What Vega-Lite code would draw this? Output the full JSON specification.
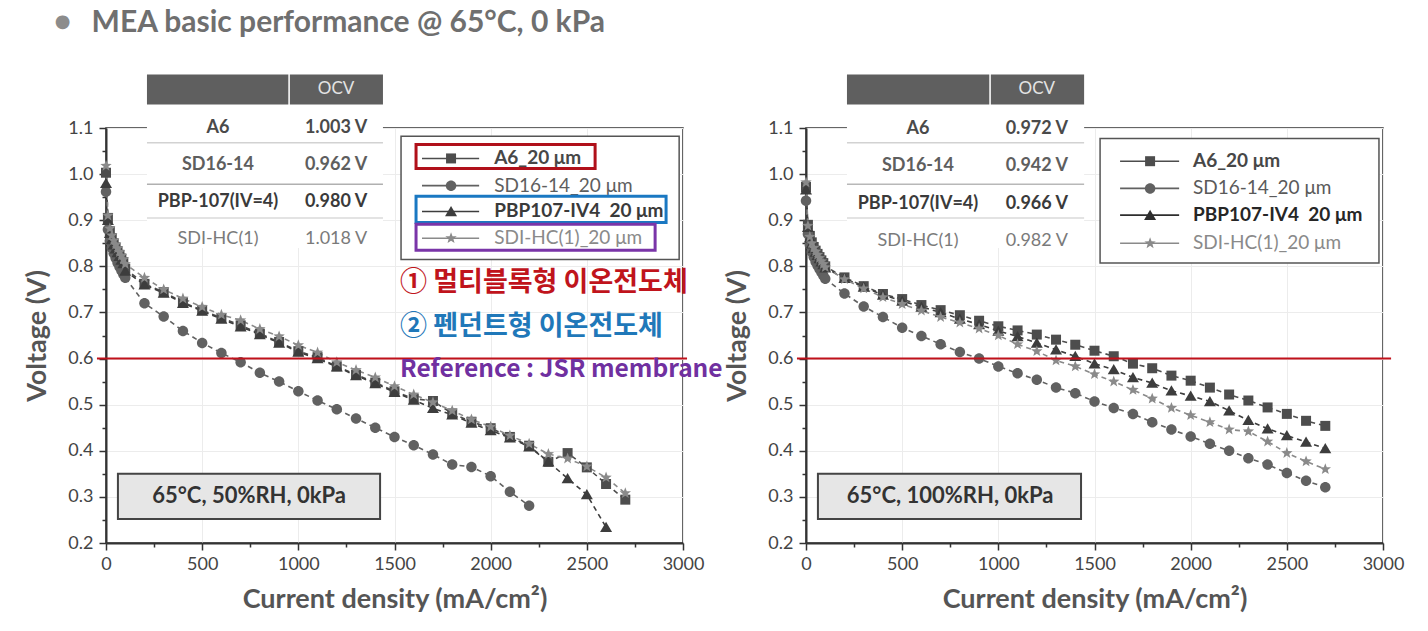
{
"$schema": "https://vega.github.io/schema/vega-lite/v6.json",
"padding": {"left": 23, "top": 7, "right": 5, "bottom": 5},
"bounds": "flush",
"spacing": 123,
"background": "white",
"config": {"view": {"stroke": "#333", "strokeWidth": 1.5}, "font": "Lato"},
"datasets": {
"blank": [{}],
"rh50": [
{"sample":"A6_20 μm","current":0,"voltage":1.003},{"sample":"A6_20 μm","current":10,"voltage":0.905},{"sample":"A6_20 μm","current":20,"voltage":0.876},{"sample":"A6_20 μm","current":30,"voltage":0.861},{"sample":"A6_20 μm","current":40,"voltage":0.85},{"sample":"A6_20 μm","current":50,"voltage":0.841},{"sample":"A6_20 μm","current":60,"voltage":0.833},{"sample":"A6_20 μm","current":70,"voltage":0.825},{"sample":"A6_20 μm","current":80,"voltage":0.817},{"sample":"A6_20 μm","current":90,"voltage":0.809},{"sample":"A6_20 μm","current":100,"voltage":0.795},{"sample":"A6_20 μm","current":200,"voltage":0.762},{"sample":"A6_20 μm","current":300,"voltage":0.744},{"sample":"A6_20 μm","current":400,"voltage":0.722},{"sample":"A6_20 μm","current":500,"voltage":0.705},{"sample":"A6_20 μm","current":600,"voltage":0.688},{"sample":"A6_20 μm","current":700,"voltage":0.672},{"sample":"A6_20 μm","current":800,"voltage":0.654},{"sample":"A6_20 μm","current":900,"voltage":0.636},{"sample":"A6_20 μm","current":1000,"voltage":0.616},{"sample":"A6_20 μm","current":1100,"voltage":0.603},{"sample":"A6_20 μm","current":1200,"voltage":0.583},{"sample":"A6_20 μm","current":1300,"voltage":0.565},{"sample":"A6_20 μm","current":1400,"voltage":0.548},{"sample":"A6_20 μm","current":1500,"voltage":0.529},{"sample":"A6_20 μm","current":1600,"voltage":0.513},{"sample":"A6_20 μm","current":1700,"voltage":0.508},{"sample":"A6_20 μm","current":1800,"voltage":0.481},{"sample":"A6_20 μm","current":1900,"voltage":0.463},{"sample":"A6_20 μm","current":2000,"voltage":0.449},{"sample":"A6_20 μm","current":2100,"voltage":0.43},{"sample":"A6_20 μm","current":2200,"voltage":0.411},{"sample":"A6_20 μm","current":2300,"voltage":0.376},{"sample":"A6_20 μm","current":2400,"voltage":0.395},{"sample":"A6_20 μm","current":2500,"voltage":0.364},{"sample":"A6_20 μm","current":2600,"voltage":0.328},{"sample":"A6_20 μm","current":2700,"voltage":0.294},
{"sample":"SD16-14_20 μm","current":0,"voltage":0.962},{"sample":"SD16-14_20 μm","current":10,"voltage":0.88},{"sample":"SD16-14_20 μm","current":20,"voltage":0.855},{"sample":"SD16-14_20 μm","current":30,"voltage":0.84},{"sample":"SD16-14_20 μm","current":40,"voltage":0.828},{"sample":"SD16-14_20 μm","current":50,"voltage":0.818},{"sample":"SD16-14_20 μm","current":60,"voltage":0.808},{"sample":"SD16-14_20 μm","current":70,"voltage":0.799},{"sample":"SD16-14_20 μm","current":80,"voltage":0.791},{"sample":"SD16-14_20 μm","current":90,"voltage":0.783},{"sample":"SD16-14_20 μm","current":100,"voltage":0.775},{"sample":"SD16-14_20 μm","current":200,"voltage":0.72},{"sample":"SD16-14_20 μm","current":300,"voltage":0.691},{"sample":"SD16-14_20 μm","current":400,"voltage":0.66},{"sample":"SD16-14_20 μm","current":500,"voltage":0.634},{"sample":"SD16-14_20 μm","current":600,"voltage":0.612},{"sample":"SD16-14_20 μm","current":700,"voltage":0.592},{"sample":"SD16-14_20 μm","current":800,"voltage":0.569},{"sample":"SD16-14_20 μm","current":900,"voltage":0.55},{"sample":"SD16-14_20 μm","current":1000,"voltage":0.529},{"sample":"SD16-14_20 μm","current":1100,"voltage":0.509},{"sample":"SD16-14_20 μm","current":1200,"voltage":0.49},{"sample":"SD16-14_20 μm","current":1300,"voltage":0.47},{"sample":"SD16-14_20 μm","current":1400,"voltage":0.45},{"sample":"SD16-14_20 μm","current":1500,"voltage":0.43},{"sample":"SD16-14_20 μm","current":1600,"voltage":0.412},{"sample":"SD16-14_20 μm","current":1700,"voltage":0.392},{"sample":"SD16-14_20 μm","current":1800,"voltage":0.37},{"sample":"SD16-14_20 μm","current":1900,"voltage":0.365},{"sample":"SD16-14_20 μm","current":2000,"voltage":0.345},{"sample":"SD16-14_20 μm","current":2100,"voltage":0.311},{"sample":"SD16-14_20 μm","current":2200,"voltage":0.281},
{"sample":"PBP107-IV4  20 μm","current":0,"voltage":0.98},{"sample":"PBP107-IV4  20 μm","current":10,"voltage":0.9},{"sample":"PBP107-IV4  20 μm","current":20,"voltage":0.872},{"sample":"PBP107-IV4  20 μm","current":30,"voltage":0.858},{"sample":"PBP107-IV4  20 μm","current":40,"voltage":0.847},{"sample":"PBP107-IV4  20 μm","current":50,"voltage":0.838},{"sample":"PBP107-IV4  20 μm","current":60,"voltage":0.83},{"sample":"PBP107-IV4  20 μm","current":70,"voltage":0.822},{"sample":"PBP107-IV4  20 μm","current":80,"voltage":0.814},{"sample":"PBP107-IV4  20 μm","current":90,"voltage":0.806},{"sample":"PBP107-IV4  20 μm","current":100,"voltage":0.79},{"sample":"PBP107-IV4  20 μm","current":200,"voltage":0.76},{"sample":"PBP107-IV4  20 μm","current":300,"voltage":0.742},{"sample":"PBP107-IV4  20 μm","current":400,"voltage":0.72},{"sample":"PBP107-IV4  20 μm","current":500,"voltage":0.703},{"sample":"PBP107-IV4  20 μm","current":600,"voltage":0.686},{"sample":"PBP107-IV4  20 μm","current":700,"voltage":0.669},{"sample":"PBP107-IV4  20 μm","current":800,"voltage":0.652},{"sample":"PBP107-IV4  20 μm","current":900,"voltage":0.634},{"sample":"PBP107-IV4  20 μm","current":1000,"voltage":0.614},{"sample":"PBP107-IV4  20 μm","current":1100,"voltage":0.6},{"sample":"PBP107-IV4  20 μm","current":1200,"voltage":0.582},{"sample":"PBP107-IV4  20 μm","current":1300,"voltage":0.563},{"sample":"PBP107-IV4  20 μm","current":1400,"voltage":0.546},{"sample":"PBP107-IV4  20 μm","current":1500,"voltage":0.527},{"sample":"PBP107-IV4  20 μm","current":1600,"voltage":0.51},{"sample":"PBP107-IV4  20 μm","current":1700,"voltage":0.492},{"sample":"PBP107-IV4  20 μm","current":1800,"voltage":0.478},{"sample":"PBP107-IV4  20 μm","current":1900,"voltage":0.46},{"sample":"PBP107-IV4  20 μm","current":2000,"voltage":0.444},{"sample":"PBP107-IV4  20 μm","current":2100,"voltage":0.428},{"sample":"PBP107-IV4  20 μm","current":2200,"voltage":0.409},{"sample":"PBP107-IV4  20 μm","current":2300,"voltage":0.376},{"sample":"PBP107-IV4  20 μm","current":2400,"voltage":0.34},{"sample":"PBP107-IV4  20 μm","current":2500,"voltage":0.305},{"sample":"PBP107-IV4  20 μm","current":2600,"voltage":0.234},
{"sample":"SDI-HC(1)_20 μm","current":0,"voltage":1.018},{"sample":"SDI-HC(1)_20 μm","current":10,"voltage":0.91},{"sample":"SDI-HC(1)_20 μm","current":20,"voltage":0.882},{"sample":"SDI-HC(1)_20 μm","current":30,"voltage":0.867},{"sample":"SDI-HC(1)_20 μm","current":40,"voltage":0.856},{"sample":"SDI-HC(1)_20 μm","current":50,"voltage":0.847},{"sample":"SDI-HC(1)_20 μm","current":60,"voltage":0.839},{"sample":"SDI-HC(1)_20 μm","current":70,"voltage":0.831},{"sample":"SDI-HC(1)_20 μm","current":80,"voltage":0.823},{"sample":"SDI-HC(1)_20 μm","current":90,"voltage":0.815},{"sample":"SDI-HC(1)_20 μm","current":100,"voltage":0.805},{"sample":"SDI-HC(1)_20 μm","current":200,"voltage":0.775},{"sample":"SDI-HC(1)_20 μm","current":300,"voltage":0.75},{"sample":"SDI-HC(1)_20 μm","current":400,"voltage":0.73},{"sample":"SDI-HC(1)_20 μm","current":500,"voltage":0.712},{"sample":"SDI-HC(1)_20 μm","current":600,"voltage":0.695},{"sample":"SDI-HC(1)_20 μm","current":700,"voltage":0.683},{"sample":"SDI-HC(1)_20 μm","current":800,"voltage":0.664},{"sample":"SDI-HC(1)_20 μm","current":900,"voltage":0.648},{"sample":"SDI-HC(1)_20 μm","current":1000,"voltage":0.629},{"sample":"SDI-HC(1)_20 μm","current":1100,"voltage":0.613},{"sample":"SDI-HC(1)_20 μm","current":1200,"voltage":0.592},{"sample":"SDI-HC(1)_20 μm","current":1300,"voltage":0.575},{"sample":"SDI-HC(1)_20 μm","current":1400,"voltage":0.559},{"sample":"SDI-HC(1)_20 μm","current":1500,"voltage":0.54},{"sample":"SDI-HC(1)_20 μm","current":1600,"voltage":0.522},{"sample":"SDI-HC(1)_20 μm","current":1700,"voltage":0.505},{"sample":"SDI-HC(1)_20 μm","current":1800,"voltage":0.487},{"sample":"SDI-HC(1)_20 μm","current":1900,"voltage":0.468},{"sample":"SDI-HC(1)_20 μm","current":2000,"voltage":0.452},{"sample":"SDI-HC(1)_20 μm","current":2100,"voltage":0.433},{"sample":"SDI-HC(1)_20 μm","current":2200,"voltage":0.415},{"sample":"SDI-HC(1)_20 μm","current":2300,"voltage":0.393},{"sample":"SDI-HC(1)_20 μm","current":2400,"voltage":0.383},{"sample":"SDI-HC(1)_20 μm","current":2500,"voltage":0.366},{"sample":"SDI-HC(1)_20 μm","current":2600,"voltage":0.342},{"sample":"SDI-HC(1)_20 μm","current":2700,"voltage":0.308}
],
"rh100": [
{"sample":"A6_20 μm","current":0,"voltage":0.972},{"sample":"A6_20 μm","current":10,"voltage":0.89},{"sample":"A6_20 μm","current":20,"voltage":0.866},{"sample":"A6_20 μm","current":30,"voltage":0.852},{"sample":"A6_20 μm","current":40,"voltage":0.842},{"sample":"A6_20 μm","current":50,"voltage":0.834},{"sample":"A6_20 μm","current":60,"voltage":0.827},{"sample":"A6_20 μm","current":70,"voltage":0.82},{"sample":"A6_20 μm","current":80,"voltage":0.813},{"sample":"A6_20 μm","current":90,"voltage":0.807},{"sample":"A6_20 μm","current":100,"voltage":0.8},{"sample":"A6_20 μm","current":200,"voltage":0.776},{"sample":"A6_20 μm","current":300,"voltage":0.757},{"sample":"A6_20 μm","current":400,"voltage":0.74},{"sample":"A6_20 μm","current":500,"voltage":0.729},{"sample":"A6_20 μm","current":600,"voltage":0.716},{"sample":"A6_20 μm","current":700,"voltage":0.705},{"sample":"A6_20 μm","current":800,"voltage":0.694},{"sample":"A6_20 μm","current":900,"voltage":0.682},{"sample":"A6_20 μm","current":1000,"voltage":0.67},{"sample":"A6_20 μm","current":1100,"voltage":0.661},{"sample":"A6_20 μm","current":1200,"voltage":0.652},{"sample":"A6_20 μm","current":1300,"voltage":0.641},{"sample":"A6_20 μm","current":1400,"voltage":0.63},{"sample":"A6_20 μm","current":1500,"voltage":0.617},{"sample":"A6_20 μm","current":1600,"voltage":0.605},{"sample":"A6_20 μm","current":1700,"voltage":0.589},{"sample":"A6_20 μm","current":1800,"voltage":0.579},{"sample":"A6_20 μm","current":1900,"voltage":0.563},{"sample":"A6_20 μm","current":2000,"voltage":0.552},{"sample":"A6_20 μm","current":2100,"voltage":0.537},{"sample":"A6_20 μm","current":2200,"voltage":0.522},{"sample":"A6_20 μm","current":2300,"voltage":0.509},{"sample":"A6_20 μm","current":2400,"voltage":0.494},{"sample":"A6_20 μm","current":2500,"voltage":0.48},{"sample":"A6_20 μm","current":2600,"voltage":0.465},{"sample":"A6_20 μm","current":2700,"voltage":0.454},
{"sample":"SD16-14_20 μm","current":0,"voltage":0.942},{"sample":"SD16-14_20 μm","current":10,"voltage":0.87},{"sample":"SD16-14_20 μm","current":20,"voltage":0.846},{"sample":"SD16-14_20 μm","current":30,"voltage":0.831},{"sample":"SD16-14_20 μm","current":40,"voltage":0.82},{"sample":"SD16-14_20 μm","current":50,"voltage":0.81},{"sample":"SD16-14_20 μm","current":60,"voltage":0.802},{"sample":"SD16-14_20 μm","current":70,"voltage":0.794},{"sample":"SD16-14_20 μm","current":80,"voltage":0.787},{"sample":"SD16-14_20 μm","current":90,"voltage":0.78},{"sample":"SD16-14_20 μm","current":100,"voltage":0.773},{"sample":"SD16-14_20 μm","current":200,"voltage":0.741},{"sample":"SD16-14_20 μm","current":300,"voltage":0.713},{"sample":"SD16-14_20 μm","current":400,"voltage":0.69},{"sample":"SD16-14_20 μm","current":500,"voltage":0.667},{"sample":"SD16-14_20 μm","current":600,"voltage":0.649},{"sample":"SD16-14_20 μm","current":700,"voltage":0.631},{"sample":"SD16-14_20 μm","current":800,"voltage":0.614},{"sample":"SD16-14_20 μm","current":900,"voltage":0.6},{"sample":"SD16-14_20 μm","current":1000,"voltage":0.583},{"sample":"SD16-14_20 μm","current":1100,"voltage":0.568},{"sample":"SD16-14_20 μm","current":1200,"voltage":0.554},{"sample":"SD16-14_20 μm","current":1300,"voltage":0.537},{"sample":"SD16-14_20 μm","current":1400,"voltage":0.525},{"sample":"SD16-14_20 μm","current":1500,"voltage":0.507},{"sample":"SD16-14_20 μm","current":1600,"voltage":0.493},{"sample":"SD16-14_20 μm","current":1700,"voltage":0.48},{"sample":"SD16-14_20 μm","current":1800,"voltage":0.462},{"sample":"SD16-14_20 μm","current":1900,"voltage":0.446},{"sample":"SD16-14_20 μm","current":2000,"voltage":0.431},{"sample":"SD16-14_20 μm","current":2100,"voltage":0.415},{"sample":"SD16-14_20 μm","current":2200,"voltage":0.4},{"sample":"SD16-14_20 μm","current":2300,"voltage":0.384},{"sample":"SD16-14_20 μm","current":2400,"voltage":0.37},{"sample":"SD16-14_20 μm","current":2500,"voltage":0.352},{"sample":"SD16-14_20 μm","current":2600,"voltage":0.335},{"sample":"SD16-14_20 μm","current":2700,"voltage":0.321},
{"sample":"PBP107-IV4  20 μm","current":0,"voltage":0.966},{"sample":"PBP107-IV4  20 μm","current":10,"voltage":0.885},{"sample":"PBP107-IV4  20 μm","current":20,"voltage":0.862},{"sample":"PBP107-IV4  20 μm","current":30,"voltage":0.849},{"sample":"PBP107-IV4  20 μm","current":40,"voltage":0.839},{"sample":"PBP107-IV4  20 μm","current":50,"voltage":0.831},{"sample":"PBP107-IV4  20 μm","current":60,"voltage":0.824},{"sample":"PBP107-IV4  20 μm","current":70,"voltage":0.817},{"sample":"PBP107-IV4  20 μm","current":80,"voltage":0.81},{"sample":"PBP107-IV4  20 μm","current":90,"voltage":0.804},{"sample":"PBP107-IV4  20 μm","current":100,"voltage":0.797},{"sample":"PBP107-IV4  20 μm","current":200,"voltage":0.774},{"sample":"PBP107-IV4  20 μm","current":300,"voltage":0.755},{"sample":"PBP107-IV4  20 μm","current":400,"voltage":0.738},{"sample":"PBP107-IV4  20 μm","current":500,"voltage":0.725},{"sample":"PBP107-IV4  20 μm","current":600,"voltage":0.712},{"sample":"PBP107-IV4  20 μm","current":700,"voltage":0.7},{"sample":"PBP107-IV4  20 μm","current":800,"voltage":0.686},{"sample":"PBP107-IV4  20 μm","current":900,"voltage":0.674},{"sample":"PBP107-IV4  20 μm","current":1000,"voltage":0.66},{"sample":"PBP107-IV4  20 μm","current":1100,"voltage":0.648},{"sample":"PBP107-IV4  20 μm","current":1200,"voltage":0.634},{"sample":"PBP107-IV4  20 μm","current":1300,"voltage":0.619},{"sample":"PBP107-IV4  20 μm","current":1400,"voltage":0.605},{"sample":"PBP107-IV4  20 μm","current":1500,"voltage":0.589},{"sample":"PBP107-IV4  20 μm","current":1600,"voltage":0.576},{"sample":"PBP107-IV4  20 μm","current":1700,"voltage":0.559},{"sample":"PBP107-IV4  20 μm","current":1800,"voltage":0.547},{"sample":"PBP107-IV4  20 μm","current":1900,"voltage":0.53},{"sample":"PBP107-IV4  20 μm","current":2000,"voltage":0.519},{"sample":"PBP107-IV4  20 μm","current":2100,"voltage":0.507},{"sample":"PBP107-IV4  20 μm","current":2200,"voltage":0.487},{"sample":"PBP107-IV4  20 μm","current":2300,"voltage":0.466},{"sample":"PBP107-IV4  20 μm","current":2400,"voltage":0.448},{"sample":"PBP107-IV4  20 μm","current":2500,"voltage":0.433},{"sample":"PBP107-IV4  20 μm","current":2600,"voltage":0.419},{"sample":"PBP107-IV4  20 μm","current":2700,"voltage":0.405},
{"sample":"SDI-HC(1)_20 μm","current":0,"voltage":0.982},{"sample":"SDI-HC(1)_20 μm","current":10,"voltage":0.888},{"sample":"SDI-HC(1)_20 μm","current":20,"voltage":0.864},{"sample":"SDI-HC(1)_20 μm","current":30,"voltage":0.85},{"sample":"SDI-HC(1)_20 μm","current":40,"voltage":0.84},{"sample":"SDI-HC(1)_20 μm","current":50,"voltage":0.832},{"sample":"SDI-HC(1)_20 μm","current":60,"voltage":0.825},{"sample":"SDI-HC(1)_20 μm","current":70,"voltage":0.818},{"sample":"SDI-HC(1)_20 μm","current":80,"voltage":0.811},{"sample":"SDI-HC(1)_20 μm","current":90,"voltage":0.805},{"sample":"SDI-HC(1)_20 μm","current":100,"voltage":0.798},{"sample":"SDI-HC(1)_20 μm","current":200,"voltage":0.772},{"sample":"SDI-HC(1)_20 μm","current":300,"voltage":0.752},{"sample":"SDI-HC(1)_20 μm","current":400,"voltage":0.733},{"sample":"SDI-HC(1)_20 μm","current":500,"voltage":0.718},{"sample":"SDI-HC(1)_20 μm","current":600,"voltage":0.704},{"sample":"SDI-HC(1)_20 μm","current":700,"voltage":0.69},{"sample":"SDI-HC(1)_20 μm","current":800,"voltage":0.678},{"sample":"SDI-HC(1)_20 μm","current":900,"voltage":0.665},{"sample":"SDI-HC(1)_20 μm","current":1000,"voltage":0.65},{"sample":"SDI-HC(1)_20 μm","current":1100,"voltage":0.631},{"sample":"SDI-HC(1)_20 μm","current":1200,"voltage":0.616},{"sample":"SDI-HC(1)_20 μm","current":1300,"voltage":0.596},{"sample":"SDI-HC(1)_20 μm","current":1400,"voltage":0.583},{"sample":"SDI-HC(1)_20 μm","current":1500,"voltage":0.566},{"sample":"SDI-HC(1)_20 μm","current":1600,"voltage":0.55},{"sample":"SDI-HC(1)_20 μm","current":1700,"voltage":0.532},{"sample":"SDI-HC(1)_20 μm","current":1800,"voltage":0.513},{"sample":"SDI-HC(1)_20 μm","current":1900,"voltage":0.493},{"sample":"SDI-HC(1)_20 μm","current":2000,"voltage":0.477},{"sample":"SDI-HC(1)_20 μm","current":2100,"voltage":0.462},{"sample":"SDI-HC(1)_20 μm","current":2200,"voltage":0.446},{"sample":"SDI-HC(1)_20 μm","current":2300,"voltage":0.442},{"sample":"SDI-HC(1)_20 μm","current":2400,"voltage":0.42},{"sample":"SDI-HC(1)_20 μm","current":2500,"voltage":0.395},{"sample":"SDI-HC(1)_20 μm","current":2600,"voltage":0.377},{"sample":"SDI-HC(1)_20 μm","current":2700,"voltage":0.36}
]
},
"hconcat": [
{
"width": 577, "height": 415,
"resolve": {"axis": {"x": "independent", "y": "independent"}},
"layer": [
{"layer": [
{"data": {"name": "rh50"},
 "mark": {"type": "line", "strokeWidth": 1.6, "strokeDash": [5, 4]},
 "encoding": {
  "x": {"field": "current", "type": "quantitative", "scale": {"domain": [0, 3000], "nice": false, "zero": false},
   "axis": {"orient": "bottom", "values": [0,500,1000,1500,2000,2500,3000], "format": "d", "tickSize": 7, "tickWidth": 1.5, "tickColor": "#333", "domainColor": "#333", "domainWidth": 2, "labelFont": "Lato", "labelFontSize": 18, "labelColor": "#444", "labelPadding": 5, "labelFlush": false, "grid": true, "gridColor": "#ececec", "title": "Current density (mA/cm²)", "titleFont": "Lato", "titleFontSize": 27, "titleFontWeight": "bold", "titleColor": "#555", "titlePadding": 13}},
  "y": {"field": "voltage", "type": "quantitative", "scale": {"domain": [0.2, 1.1], "nice": false, "zero": false},
   "axis": {"orient": "left", "values": [0.2,0.3,0.4,0.5,0.6,0.7,0.8,0.9,1.0,1.1], "format": ".1f", "tickSize": 7, "tickWidth": 1.5, "tickColor": "#333", "domainColor": "#333", "domainWidth": 2, "labelFont": "Lato", "labelFontSize": 18, "labelColor": "#444", "labelPadding": 6, "labelFlush": false, "grid": true, "gridColor": "#ececec", "title": "Voltage (V)", "titleFont": "Lato", "titleFontSize": 27, "titleFontWeight": "bold", "titleColor": "#555", "titlePadding": 16}},
  "color": {"field": "sample", "type": "nominal", "scale": {"domain": ["A6_20 μm","SD16-14_20 μm","PBP107-IV4  20 μm","SDI-HC(1)_20 μm"], "range": ["#4d4d4d","#616161","#3d3d3d","#8a8a8a"]}, "legend": null}
 }},
{"data": {"name": "rh50"},
 "mark": {"type": "point", "filled": true, "size": 100, "opacity": 1},
 "encoding": {
  "x": {"field": "current", "type": "quantitative", "scale": {"domain": [0, 3000], "nice": false, "zero": false}},
  "y": {"field": "voltage", "type": "quantitative", "scale": {"domain": [0.2, 1.1], "nice": false, "zero": false}},
  "color": {"field": "sample", "type": "nominal", "legend": null},
  "shape": {"field": "sample", "type": "nominal", "scale": {"domain": ["A6_20 μm","SD16-14_20 μm","PBP107-IV4  20 μm","SDI-HC(1)_20 μm"], "range": ["square","M1.05,0A1.05,1.05,0,1,1,-1.05,0A1.05,1.05,0,1,1,1.05,0Z","M0,-1.1L1.2,0.95L-1.2,0.95Z","M0,-1.2L0.29,-0.41L1.14,-0.37L0.48,0.16L0.7,0.97L0,0.5L-0.7,0.97L-0.48,0.16L-1.14,-0.37L-0.29,-0.41Z"]}, "legend": null}
 }},
{"data": {"name": "blank"}, "mark": {"type": "rule", "color": "#c0111b", "strokeWidth": 2}, "encoding": {"x": {"datum": -47}, "x2": {"datum": 3021}, "y": {"datum": 0.6}}},
{"data": {"name": "blank"}, "mark": {"type": "rect", "fill": "white"}, "encoding": {"x": {"datum": 213}, "x2": {"datum": 1440}, "y": {"datum": 1.147}, "y2": {"datum": 0.84}}},
{"data": {"name": "blank"}, "mark": {"type": "rect", "fill": "#5f5f5f"}, "encoding": {"x": {"datum": 213}, "x2": {"datum": 948}, "y": {"datum": 1.216}, "y2": {"datum": 1.151}}},
{"data": {"name": "blank"}, "mark": {"type": "rect", "fill": "#5f5f5f"}, "encoding": {"x": {"datum": 956}, "x2": {"datum": 1440}, "y": {"datum": 1.216}, "y2": {"datum": 1.151}}},
{"data": {"name": "blank"}, "mark": {"type": "text", "text": "OCV", "fontSize": 17, "color": "#e4e4e4"}, "encoding": {"x": {"datum": 1196}, "y": {"datum": 1.184}}},
{"data": {"name": "blank"}, "mark": {"type": "rule", "color": "#d2d2d2", "strokeWidth": 1.5}, "encoding": {"x": {"datum": 213}, "x2": {"datum": 1440}, "y": {"datum": 1.068}}},
{"data": {"name": "blank"}, "mark": {"type": "rule", "color": "#b0b0b0", "strokeWidth": 1.5}, "encoding": {"x": {"datum": 213}, "x2": {"datum": 1440}, "y": {"datum": 0.978}}},
{"data": {"name": "blank"}, "mark": {"type": "rule", "color": "#dadada", "strokeWidth": 1.5}, "encoding": {"x": {"datum": 213}, "x2": {"datum": 1440}, "y": {"datum": 0.905}}},
{"data": {"name": "blank"}, "mark": {"type": "text", "text": "A6", "fontSize": 18, "fontWeight": "bold", "color": "#4a4a4a"}, "encoding": {"x": {"datum": 582}, "y": {"datum": 1.099}}},
{"data": {"name": "blank"}, "mark": {"type": "text", "text": "1.003 V", "fontSize": 18, "fontWeight": "bold", "color": "#4a4a4a"}, "encoding": {"x": {"datum": 1196}, "y": {"datum": 1.099}}},
{"data": {"name": "blank"}, "mark": {"type": "text", "text": "SD16-14", "fontSize": 18, "fontWeight": "bold", "color": "#5e5e5e"}, "encoding": {"x": {"datum": 582}, "y": {"datum": 1.019}}},
{"data": {"name": "blank"}, "mark": {"type": "text", "text": "0.962 V", "fontSize": 18, "fontWeight": "bold", "color": "#5e5e5e"}, "encoding": {"x": {"datum": 1196}, "y": {"datum": 1.019}}},
{"data": {"name": "blank"}, "mark": {"type": "text", "text": "PBP-107(IV=4)", "fontSize": 18, "fontWeight": "bold", "color": "#3a3a3a"}, "encoding": {"x": {"datum": 582}, "y": {"datum": 0.939}}},
{"data": {"name": "blank"}, "mark": {"type": "text", "text": "0.980 V", "fontSize": 18, "fontWeight": "bold", "color": "#3a3a3a"}, "encoding": {"x": {"datum": 1196}, "y": {"datum": 0.939}}},
{"data": {"name": "blank"}, "mark": {"type": "text", "text": "SDI-HC(1)", "fontSize": 18, "color": "#7a7a7a"}, "encoding": {"x": {"datum": 582}, "y": {"datum": 0.859}}},
{"data": {"name": "blank"}, "mark": {"type": "text", "text": "1.018 V", "fontSize": 18, "color": "#7a7a7a"}, "encoding": {"x": {"datum": 1196}, "y": {"datum": 0.859}}},
{"data": {"name": "blank"}, "mark": {"type": "rect", "fill": "white", "stroke": "#555", "strokeWidth": 1.5}, "encoding": {"x": {"datum": 1534}, "x2": {"datum": 2980}, "y": {"datum": 1.082}, "y2": {"datum": 0.815}}},
{"data": {"name": "blank"}, "mark": {"type": "rule", "color": "#4d4d4d", "strokeWidth": 1.6}, "encoding": {"x": {"datum": 1643}, "x2": {"datum": 1940}, "y": {"datum": 1.034}}},
{"data": {"name": "blank"}, "mark": {"type": "rule", "color": "#616161", "strokeWidth": 1.6}, "encoding": {"x": {"datum": 1643}, "x2": {"datum": 1940}, "y": {"datum": 0.975}}},
{"data": {"name": "blank"}, "mark": {"type": "rule", "color": "#3d3d3d", "strokeWidth": 1.6}, "encoding": {"x": {"datum": 1643}, "x2": {"datum": 1940}, "y": {"datum": 0.919}}},
{"data": {"name": "blank"}, "mark": {"type": "rule", "color": "#8a8a8a", "strokeWidth": 1.6}, "encoding": {"x": {"datum": 1643}, "x2": {"datum": 1940}, "y": {"datum": 0.861}}},
{"data": {"name": "blank"}, "mark": {"type": "point", "shape": "square", "filled": true, "size": 100, "color": "#4d4d4d", "opacity": 1}, "encoding": {"x": {"datum": 1794}, "y": {"datum": 1.034}}},
{"data": {"name": "blank"}, "mark": {"type": "point", "shape": "M1.05,0A1.05,1.05,0,1,1,-1.05,0A1.05,1.05,0,1,1,1.05,0Z", "filled": true, "size": 100, "color": "#616161", "opacity": 1}, "encoding": {"x": {"datum": 1794}, "y": {"datum": 0.975}}},
{"data": {"name": "blank"}, "mark": {"type": "point", "shape": "M0,-1.1L1.2,0.95L-1.2,0.95Z", "filled": true, "size": 100, "color": "#3d3d3d", "opacity": 1}, "encoding": {"x": {"datum": 1794}, "y": {"datum": 0.919}}},
{"data": {"name": "blank"}, "mark": {"type": "point", "shape": "M0,-1.2L0.29,-0.41L1.14,-0.37L0.48,0.16L0.7,0.97L0,0.5L-0.7,0.97L-0.48,0.16L-1.14,-0.37L-0.29,-0.41Z", "filled": true, "size": 100, "color": "#8a8a8a", "opacity": 1}, "encoding": {"x": {"datum": 1794}, "y": {"datum": 0.861}}},
{"data": {"name": "blank"}, "mark": {"type": "text", "text": "A6_20 μm", "align": "left", "fontSize": 19, "fontWeight": "bold", "color": "#474747"}, "encoding": {"x": {"datum": 2018}, "y": {"datum": 1.034}}},
{"data": {"name": "blank"}, "mark": {"type": "text", "text": "SD16-14_20 μm", "align": "left", "fontSize": 19, "color": "#5e5e5e"}, "encoding": {"x": {"datum": 2018}, "y": {"datum": 0.975}}},
{"data": {"name": "blank"}, "mark": {"type": "text", "text": "PBP107-IV4\u00a0 20 μm", "align": "left", "fontSize": 19, "fontWeight": "bold", "color": "#3a3a3a"}, "encoding": {"x": {"datum": 2018}, "y": {"datum": 0.919}}},
{"data": {"name": "blank"}, "mark": {"type": "text", "text": "SDI-HC(1)_20 μm", "align": "left", "fontSize": 19, "color": "#8a8a8a"}, "encoding": {"x": {"datum": 2018}, "y": {"datum": 0.861}}},
{"data": {"name": "blank"}, "mark": {"type": "rect", "fill": "transparent", "stroke": "#b0101a", "strokeWidth": 3}, "encoding": {"x": {"datum": 1612}, "x2": {"datum": 2543}, "y": {"datum": 1.064}, "y2": {"datum": 1.012}}},
{"data": {"name": "blank"}, "mark": {"type": "rect", "fill": "transparent", "stroke": "#1a78c2", "strokeWidth": 3}, "encoding": {"x": {"datum": 1612}, "x2": {"datum": 2912}, "y": {"datum": 0.952}, "y2": {"datum": 0.895}}},
{"data": {"name": "blank"}, "mark": {"type": "rect", "fill": "transparent", "stroke": "#7a35a8", "strokeWidth": 3}, "encoding": {"x": {"datum": 1612}, "x2": {"datum": 2855}, "y": {"datum": 0.891}, "y2": {"datum": 0.835}}},
{"data": {"name": "blank"}, "mark": {"type": "text", "text": "① 멀티블록형 이온전도체", "align": "left", "font": "Noto Sans CJK KR", "fontSize": 27, "fontWeight": "bold", "color": "#c0141c"}, "encoding": {"x": {"datum": 1529}, "y": {"datum": 0.763}}},
{"data": {"name": "blank"}, "mark": {"type": "text", "text": "② 펜던트형 이온전도체", "align": "left", "font": "Noto Sans CJK KR", "fontSize": 27, "fontWeight": "bold", "color": "#1f78b9"}, "encoding": {"x": {"datum": 1529}, "y": {"datum": 0.668}}},
{"data": {"name": "blank"}, "mark": {"type": "text", "text": "Reference : JSR membrane", "align": "left", "font": "Noto Sans CJK KR", "fontSize": 24.5, "fontWeight": "bold", "color": "#7030a0"}, "encoding": {"x": {"datum": 1529}, "y": {"datum": 0.575}}},
{"data": {"name": "blank"}, "mark": {"type": "rect", "fill": "#e6e6e6", "stroke": "#444", "strokeWidth": 2}, "encoding": {"x": {"datum": 62}, "x2": {"datum": 1425}, "y": {"datum": 0.35}, "y2": {"datum": 0.252}}},
{"data": {"name": "blank"}, "mark": {"type": "text", "text": "65°C, 50%RH, 0kPa", "fontSize": 22, "fontWeight": "bold", "color": "#333"}, "encoding": {"x": {"datum": 744}, "y": {"datum": 0.302}}},
{"data": {"name": "blank"}, "mark": {"type": "text", "text": "●", "font": "DejaVu Sans", "fontSize": 18, "color": "#8c8c8c"}, "encoding": {"x": {"datum": -226}, "y": {"datum": 1.329}}},
{"data": {"name": "blank"}, "mark": {"type": "text", "text": "MEA basic performance @ 65°C, 0 kPa", "align": "left", "fontSize": 30, "fontWeight": "bold", "color": "#6f6f6f"}, "encoding": {"x": {"datum": -75}, "y": {"datum": 1.327}}}
]},
{"data": {"name": "blank"}, "mark": {"type": "point", "opacity": 0},
 "encoding": {
  "x": {"datum": 0, "axis": {"orient": "bottom", "values": [250,750,1250,1750,2250,2750], "labels": false, "domain": false, "grid": false, "tickSize": 4, "tickWidth": 1.5, "tickColor": "#333", "title": null}},
  "y": {"datum": 0.2, "axis": {"orient": "left", "values": [0.25,0.35,0.45,0.55,0.65,0.75,0.85,0.95,1.05], "labels": false, "domain": false, "grid": false, "tickSize": 4, "tickWidth": 1.5, "tickColor": "#333", "title": null}}
 }}
]
},
{
"width": 577, "height": 415,
"resolve": {"axis": {"x": "independent", "y": "independent"}},
"layer": [
{"layer": [
{"data": {"name": "rh100"},
 "mark": {"type": "line", "strokeWidth": 1.6, "strokeDash": [5, 4]},
 "encoding": {
  "x": {"field": "current", "type": "quantitative", "scale": {"domain": [0, 3000], "nice": false, "zero": false},
   "axis": {"orient": "bottom", "values": [0,500,1000,1500,2000,2500,3000], "format": "d", "tickSize": 7, "tickWidth": 1.5, "tickColor": "#333", "domainColor": "#333", "domainWidth": 2, "labelFont": "Lato", "labelFontSize": 18, "labelColor": "#444", "labelPadding": 5, "labelFlush": false, "grid": true, "gridColor": "#ececec", "title": "Current density (mA/cm²)", "titleFont": "Lato", "titleFontSize": 27, "titleFontWeight": "bold", "titleColor": "#555", "titlePadding": 13}},
  "y": {"field": "voltage", "type": "quantitative", "scale": {"domain": [0.2, 1.1], "nice": false, "zero": false},
   "axis": {"orient": "left", "values": [0.2,0.3,0.4,0.5,0.6,0.7,0.8,0.9,1.0,1.1], "format": ".1f", "tickSize": 7, "tickWidth": 1.5, "tickColor": "#333", "domainColor": "#333", "domainWidth": 2, "labelFont": "Lato", "labelFontSize": 18, "labelColor": "#444", "labelPadding": 6, "labelFlush": false, "grid": true, "gridColor": "#ececec", "title": "Voltage (V)", "titleFont": "Lato", "titleFontSize": 27, "titleFontWeight": "bold", "titleColor": "#555", "titlePadding": 16}},
  "color": {"field": "sample", "type": "nominal", "scale": {"domain": ["A6_20 μm","SD16-14_20 μm","PBP107-IV4  20 μm","SDI-HC(1)_20 μm"], "range": ["#4d4d4d","#616161","#2e2e2e","#8a8a8a"]}, "legend": null}
 }},
{"data": {"name": "rh100"},
 "mark": {"type": "point", "filled": true, "size": 100, "opacity": 1},
 "encoding": {
  "x": {"field": "current", "type": "quantitative", "scale": {"domain": [0, 3000], "nice": false, "zero": false}},
  "y": {"field": "voltage", "type": "quantitative", "scale": {"domain": [0.2, 1.1], "nice": false, "zero": false}},
  "color": {"field": "sample", "type": "nominal", "legend": null},
  "shape": {"field": "sample", "type": "nominal", "scale": {"domain": ["A6_20 μm","SD16-14_20 μm","PBP107-IV4  20 μm","SDI-HC(1)_20 μm"], "range": ["square","M1.05,0A1.05,1.05,0,1,1,-1.05,0A1.05,1.05,0,1,1,1.05,0Z","M0,-1.1L1.2,0.95L-1.2,0.95Z","M0,-1.2L0.29,-0.41L1.14,-0.37L0.48,0.16L0.7,0.97L0,0.5L-0.7,0.97L-0.48,0.16L-1.14,-0.37L-0.29,-0.41Z"]}, "legend": null}
 }},
{"data": {"name": "blank"}, "mark": {"type": "rule", "color": "#c0111b", "strokeWidth": 2}, "encoding": {"x": {"datum": -47}, "x2": {"datum": 3042}, "y": {"datum": 0.6}}},
{"data": {"name": "blank"}, "mark": {"type": "rect", "fill": "white"}, "encoding": {"x": {"datum": 213}, "x2": {"datum": 1446}, "y": {"datum": 1.147}, "y2": {"datum": 0.84}}},
{"data": {"name": "blank"}, "mark": {"type": "rect", "fill": "#5f5f5f"}, "encoding": {"x": {"datum": 213}, "x2": {"datum": 953}, "y": {"datum": 1.216}, "y2": {"datum": 1.151}}},
{"data": {"name": "blank"}, "mark": {"type": "rect", "fill": "#5f5f5f"}, "encoding": {"x": {"datum": 961}, "x2": {"datum": 1446}, "y": {"datum": 1.216}, "y2": {"datum": 1.151}}},
{"data": {"name": "blank"}, "mark": {"type": "text", "text": "OCV", "fontSize": 17, "color": "#e4e4e4"}, "encoding": {"x": {"datum": 1200}, "y": {"datum": 1.184}}},
{"data": {"name": "blank"}, "mark": {"type": "rule", "color": "#d2d2d2", "strokeWidth": 1.5}, "encoding": {"x": {"datum": 213}, "x2": {"datum": 1446}, "y": {"datum": 1.068}}},
{"data": {"name": "blank"}, "mark": {"type": "rule", "color": "#b8b8b8", "strokeWidth": 1.5}, "encoding": {"x": {"datum": 213}, "x2": {"datum": 1446}, "y": {"datum": 0.978}}},
{"data": {"name": "blank"}, "mark": {"type": "rule", "color": "#dadada", "strokeWidth": 1.5}, "encoding": {"x": {"datum": 213}, "x2": {"datum": 1446}, "y": {"datum": 0.905}}},
{"data": {"name": "blank"}, "mark": {"type": "text", "text": "A6", "fontSize": 18, "fontWeight": "bold", "color": "#4a4a4a"}, "encoding": {"x": {"datum": 582}, "y": {"datum": 1.097}}},
{"data": {"name": "blank"}, "mark": {"type": "text", "text": "0.972 V", "fontSize": 18, "fontWeight": "bold", "color": "#4a4a4a"}, "encoding": {"x": {"datum": 1200}, "y": {"datum": 1.097}}},
{"data": {"name": "blank"}, "mark": {"type": "text", "text": "SD16-14", "fontSize": 18, "fontWeight": "bold", "color": "#5e5e5e"}, "encoding": {"x": {"datum": 582}, "y": {"datum": 1.017}}},
{"data": {"name": "blank"}, "mark": {"type": "text", "text": "0.942 V", "fontSize": 18, "fontWeight": "bold", "color": "#5e5e5e"}, "encoding": {"x": {"datum": 1200}, "y": {"datum": 1.017}}},
{"data": {"name": "blank"}, "mark": {"type": "text", "text": "PBP-107(IV=4)", "fontSize": 18, "fontWeight": "bold", "color": "#3a3a3a"}, "encoding": {"x": {"datum": 582}, "y": {"datum": 0.935}}},
{"data": {"name": "blank"}, "mark": {"type": "text", "text": "0.966 V", "fontSize": 18, "fontWeight": "bold", "color": "#3a3a3a"}, "encoding": {"x": {"datum": 1200}, "y": {"datum": 0.935}}},
{"data": {"name": "blank"}, "mark": {"type": "text", "text": "SDI-HC(1)", "fontSize": 18, "color": "#7a7a7a"}, "encoding": {"x": {"datum": 582}, "y": {"datum": 0.855}}},
{"data": {"name": "blank"}, "mark": {"type": "text", "text": "0.982 V", "fontSize": 18, "color": "#7a7a7a"}, "encoding": {"x": {"datum": 1200}, "y": {"datum": 0.855}}},
{"data": {"name": "blank"}, "mark": {"type": "rect", "fill": "white", "stroke": "#555", "strokeWidth": 1.5}, "encoding": {"x": {"datum": 1529}, "x2": {"datum": 2979}, "y": {"datum": 1.077}, "y2": {"datum": 0.807}}},
{"data": {"name": "blank"}, "mark": {"type": "rule", "color": "#4d4d4d", "strokeWidth": 1.6}, "encoding": {"x": {"datum": 1633}, "x2": {"datum": 1940}, "y": {"datum": 1.028}}},
{"data": {"name": "blank"}, "mark": {"type": "rule", "color": "#616161", "strokeWidth": 1.6}, "encoding": {"x": {"datum": 1633}, "x2": {"datum": 1940}, "y": {"datum": 0.969}}},
{"data": {"name": "blank"}, "mark": {"type": "rule", "color": "#2e2e2e", "strokeWidth": 1.6}, "encoding": {"x": {"datum": 1633}, "x2": {"datum": 1940}, "y": {"datum": 0.911}}},
{"data": {"name": "blank"}, "mark": {"type": "rule", "color": "#8a8a8a", "strokeWidth": 1.6}, "encoding": {"x": {"datum": 1633}, "x2": {"datum": 1940}, "y": {"datum": 0.85}}},
{"data": {"name": "blank"}, "mark": {"type": "point", "shape": "square", "filled": true, "size": 100, "color": "#4d4d4d", "opacity": 1}, "encoding": {"x": {"datum": 1789}, "y": {"datum": 1.028}}},
{"data": {"name": "blank"}, "mark": {"type": "point", "shape": "M1.05,0A1.05,1.05,0,1,1,-1.05,0A1.05,1.05,0,1,1,1.05,0Z", "filled": true, "size": 100, "color": "#616161", "opacity": 1}, "encoding": {"x": {"datum": 1789}, "y": {"datum": 0.969}}},
{"data": {"name": "blank"}, "mark": {"type": "point", "shape": "M0,-1.1L1.2,0.95L-1.2,0.95Z", "filled": true, "size": 100, "color": "#2e2e2e", "opacity": 1}, "encoding": {"x": {"datum": 1789}, "y": {"datum": 0.911}}},
{"data": {"name": "blank"}, "mark": {"type": "point", "shape": "M0,-1.2L0.29,-0.41L1.14,-0.37L0.48,0.16L0.7,0.97L0,0.5L-0.7,0.97L-0.48,0.16L-1.14,-0.37L-0.29,-0.41Z", "filled": true, "size": 100, "color": "#8a8a8a", "opacity": 1}, "encoding": {"x": {"datum": 1789}, "y": {"datum": 0.85}}},
{"data": {"name": "blank"}, "mark": {"type": "text", "text": "A6_20 μm", "align": "left", "fontSize": 19, "fontWeight": "bold", "color": "#474747"}, "encoding": {"x": {"datum": 2012}, "y": {"datum": 1.028}}},
{"data": {"name": "blank"}, "mark": {"type": "text", "text": "SD16-14_20 μm", "align": "left", "fontSize": 19, "color": "#5a5a5a"}, "encoding": {"x": {"datum": 2012}, "y": {"datum": 0.969}}},
{"data": {"name": "blank"}, "mark": {"type": "text", "text": "PBP107-IV4\u00a0 20 μm", "align": "left", "fontSize": 19, "fontWeight": "bold", "color": "#262626"}, "encoding": {"x": {"datum": 2012}, "y": {"datum": 0.911}}},
{"data": {"name": "blank"}, "mark": {"type": "text", "text": "SDI-HC(1)_20 μm", "align": "left", "fontSize": 19, "color": "#8a8a8a"}, "encoding": {"x": {"datum": 2012}, "y": {"datum": 0.85}}},
{"data": {"name": "blank"}, "mark": {"type": "rect", "fill": "#e6e6e6", "stroke": "#444", "strokeWidth": 2}, "encoding": {"x": {"datum": 62}, "x2": {"datum": 1430}, "y": {"datum": 0.35}, "y2": {"datum": 0.252}}},
{"data": {"name": "blank"}, "mark": {"type": "text", "text": "65°C, 100%RH, 0kPa", "fontSize": 22, "fontWeight": "bold", "color": "#333"}, "encoding": {"x": {"datum": 749}, "y": {"datum": 0.302}}}
]},
{"data": {"name": "blank"}, "mark": {"type": "point", "opacity": 0},
 "encoding": {
  "x": {"datum": 0, "axis": {"orient": "bottom", "values": [250,750,1250,1750,2250,2750], "labels": false, "domain": false, "grid": false, "tickSize": 4, "tickWidth": 1.5, "tickColor": "#333", "title": null}},
  "y": {"datum": 0.2, "axis": {"orient": "left", "values": [0.25,0.35,0.45,0.55,0.65,0.75,0.85,0.95,1.05], "labels": false, "domain": false, "grid": false, "tickSize": 4, "tickWidth": 1.5, "tickColor": "#333", "title": null}}
 }}
]
}
]
}
